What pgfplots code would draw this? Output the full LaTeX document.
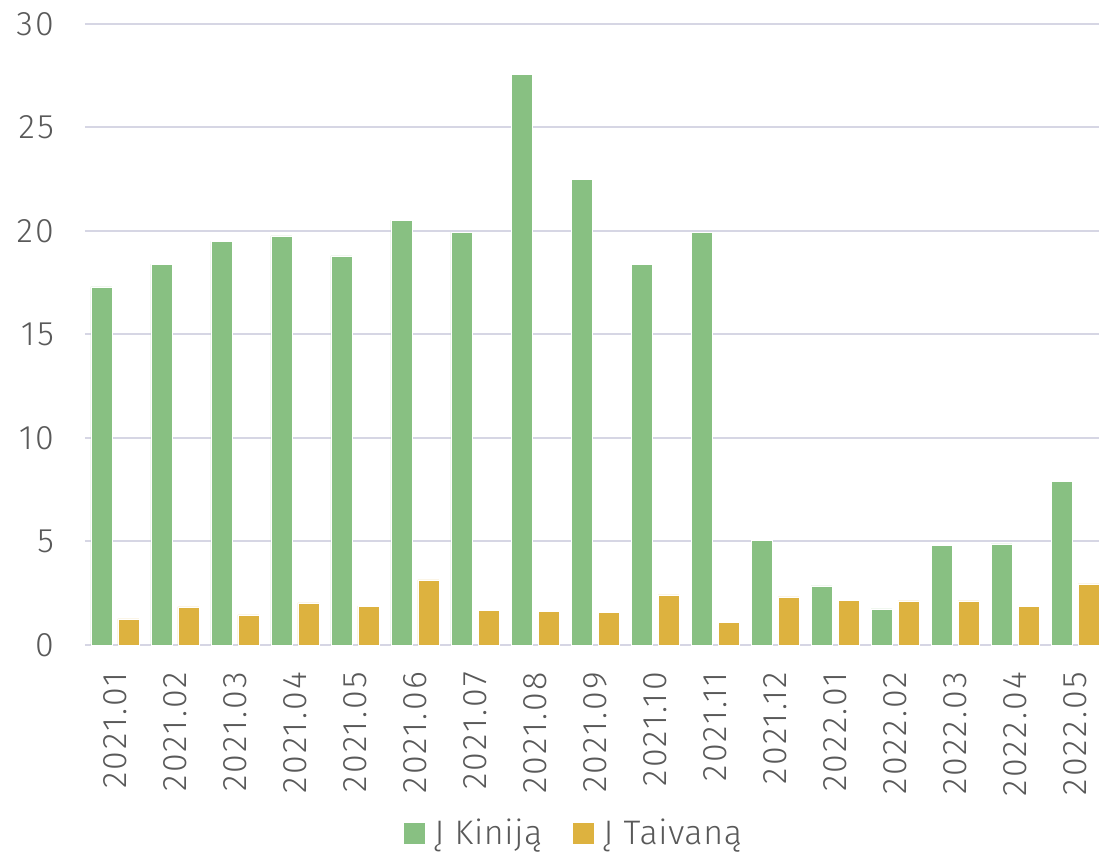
\documentclass[border=0pt]{standalone}
\usepackage{fontspec}
\setmainfont{Fira Sans}[UprightFont={* Light}]
\usepackage{pgfplots}
\pgfplotsset{compat=1.18}
\definecolor{cgreen}{HTML}{88C082}
\definecolor{cyellow}{HTML}{DDB23F}
\definecolor{ctext}{HTML}{595959}
\definecolor{cgrid}{HTML}{D6D6E4}
\begin{document}
\begin{tikzpicture}
\begin{axis}[
  at={(0,0)}, anchor=south west,
  scale only axis, width=507pt, height=310.5pt,
  xmin=-0.5, xmax=16.4, ymin=0, ymax=30,
  ytick={0,5,10,15,20,25,30},
  xtick={0,...,16},
  xticklabels={2021.01,2021.02,2021.03,2021.04,2021.05,2021.06,2021.07,2021.08,2021.09,2021.10,2021.11,2021.12,2022.01,2022.02,2022.03,2022.04,2022.05},
  major tick length=0pt,
  axis line style={draw=none},
  ymajorgrids, grid style={cgrid, line width=1pt},
  tick label style={font=\fontsize{17}{20}\selectfont\addfontfeature{LetterSpace=7}, text=ctext},
  /pgf/number format/assume math mode=true,
  yticklabel style={anchor=east, xshift=-12pt},
  xticklabel style={rotate=90, anchor=east, xshift=-10pt},
  ybar, bar width=0.35,
  legend style={at={(axis description cs:0.483,-0.3027)}, anchor=center, draw=none, legend columns=2,
    font=\fontsize{17}{20}\selectfont\addfontfeature{LetterSpace=2}, text=ctext,
    /tikz/every even column/.append style={column sep=13pt},
    /tikz/every odd column/.append style={column sep=2.5pt}},
  legend image code/.code={\fill[#1] (0pt,-5.5pt) rectangle (11pt,5.5pt);},
  clip=false,
]
\addplot[fill=cgreen, draw=white, line width=0.3pt, bar shift=-0.225] coordinates {
(0,17.3) (1,18.4) (2,19.5) (3,19.76) (4,18.8) (5,20.53) (6,19.95) (7,27.55) (8,22.5) (9,18.38) (10,19.95) (11,5.07) (12,2.85) (13,1.74) (14,4.83) (15,4.88) (16,7.92)};
\addlegendentry{Į Kiniją}
\addplot[fill=cyellow, draw=white, line width=0.3pt, bar shift=0.225] coordinates {
(0,1.26) (1,1.84) (2,1.45) (3,2.03) (4,1.88) (5,3.14) (6,1.69) (7,1.64) (8,1.59) (9,2.42) (10,1.11) (11,2.32) (12,2.17) (13,2.13) (14,2.13) (15,1.88) (16,2.95)};
\addlegendentry{Į Taivaną}
\end{axis}
\pgfresetboundingbox
\path (-42.5pt,-105pt) rectangle (507pt,322.5pt);
\end{tikzpicture}
\end{document}
